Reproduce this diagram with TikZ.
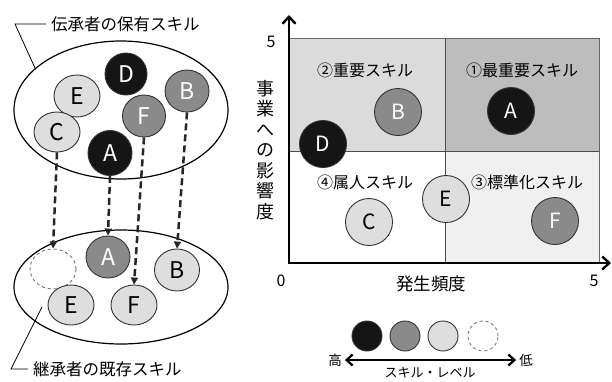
\documentclass[tikz,border=0pt]{standalone}
\usepackage{fontspec}
\setmainfont{Noto Sans CJK JP}
\usetikzlibrary{arrows.meta,shapes.geometric,calc}
\definecolor{cblack}{HTML}{151515}
\definecolor{cdark}{HTML}{8A8A8A}
\definecolor{clight}{HTML}{DEDEDE}
\tikzset{
  sk/.style={ellipse,draw=black!80,line width=0.9pt,inner sep=0pt,minimum width=#1,font=\fontsize{23}{23}\selectfont},
  skA/.style={sk=46pt,minimum height=42pt},
  blk/.style={fill=cblack,text=white},
  drk/.style={fill=cdark,text=white},
  lgt/.style={fill=clight,text=black},
  emp/.style={draw=black!55,dashed,fill=none},
  ch/.style={circle,draw=black!80,line width=0.9pt,inner sep=0pt,minimum size=47pt,font=\fontsize{21}{21}\selectfont},
  trans/.style={draw=black!85,line width=2.5pt,dash pattern=on 7pt off 4pt,-{Stealth[length=7pt,width=7pt,inset=0pt]}},
  lbl/.style={font=\fontsize{16.5}{16.5}\selectfont,inner sep=0pt},
  qlbl/.style={font=\fontsize{16}{16}\selectfont,inner sep=0pt},
  ax/.style={line width=2.5pt,line cap=round},
}
\begin{document}
\begin{tikzpicture}[x=1pt,y=-1pt]
\useasboundingbox (0,0) rectangle (612,381);
% --- left: holder skills
\node[ellipse,draw=black,line width=1.2pt,minimum width=214pt,minimum height=138pt] (topset) at (121,110) {};
\node[skA,blk,minimum width=42pt] (tD) at (126,74) {D};
\node[skA,lgt] (tE) at (77,96) {E};
\node[skA,lgt,minimum height=40pt] (tC) at (57,132) {C};
\node[skA,blk,minimum width=44pt,minimum height=45pt] (tA) at (110,153) {A};
\node[skA,drk,minimum width=43pt] (tF) at (144,116) {F};
\node[skA,drk,minimum width=44pt] (tB) at (187,91) {B};
\coordinate (tl1) at (35,68);
\coordinate (tl2) at (15,24);
\coordinate (tl3) at (46,24);
\draw[line width=0.8pt] (tl1) -- (tl2) -- (tl3);
\node[lbl,anchor=west] (toplabel) at (51,24) {伝承者の保有スキル};
% --- left: successor skills
\node[ellipse,draw=black,line width=1.2pt,minimum width=214pt,minimum height=114pt] (botset) at (121,287) {};
\node[skA,emp,minimum width=46pt,minimum height=40pt] (bX) at (53,269) {};
\node[skA,drk,minimum width=44pt] (bA) at (108,257) {A};
\node[skA,lgt,minimum width=45pt] (bB) at (177,270) {B};
\node[skA,lgt,minimum height=40pt] (bE) at (71,305) {E};
\node[skA,lgt,minimum height=40pt] (bF) at (134,305) {F};
\coordinate (bl1) at (42,307);
\coordinate (bl2) at (11,369);
\coordinate (bl3) at (28,369);
\draw[line width=0.8pt] (bl1) -- (bl2) -- (bl3);
\node[lbl,anchor=west] (botlabel) at (33,369) {継承者の既存スキル};
% transfer arrows
\draw[trans] (tC.south) -- (bX.north);
\draw[trans] (tA.south) -- (bA.north);
\draw[trans] (tF.south) -- (bF.north);
\draw[trans] (tB.south) -- (bB.north);
% --- right: matrix
\fill[gray!28] (289,38) rectangle (445,151);
\fill[gray!52] (445,38) rectangle (599,151);
\fill[gray!12] (445,151) rectangle (599,263);
\draw[black!60,line width=0.8pt] (289,38) rectangle (599,263);
\draw[black!70,line width=0.8pt] (445,38) -- (445,263);
\draw[black!70,line width=0.8pt] (289,151) -- (599,151);
\coordinate (org) at (289,263);
\coordinate (ytop) at (289,15);
\coordinate (xend) at (611,263);
\draw[ax,-{Straight Barb[length=7pt,width=13pt,line width=2.4pt]}] (org) -- (ytop);
\draw[ax,-{Straight Barb[length=7pt,width=13pt,line width=2.4pt]}] (org) -- (xend);
\node[qlbl] (y5) at (271,42) {5};
\node[qlbl] (x0) at (281,281) {0};
\node[qlbl] (x5) at (594,281) {5};
\node[font=\fontsize{17.5}{17.5}\selectfont,inner sep=0pt] (xlab) at (431,284) {発生頻度};
\node[font=\fontsize{18}{20.5}\selectfont,inner sep=0pt,align=center] (ylab) at (265,150) {事\\業\\へ\\の\\影\\響\\度};
\node[qlbl] (q2) at (365,70) {②重要スキル};
\node[qlbl] (q1) at (522,70) {①最重要スキル};
\node[qlbl] (q4) at (365,182) {④属人スキル};
\node[qlbl] (q3) at (527,182) {③標準化スキル};
\node[ch,drk] (mB) at (398,112) {B};
\node[ch,blk] (mA) at (511,111) {A};
\node[ch,blk] (mD) at (323,144) {D};
\node[ch,lgt] (mE) at (446,199) {E};
\node[ch,lgt] (mC) at (369,222) {C};
\node[ch,drk] (mF) at (555,221) {F};
% --- legend
\node[circle,draw=black!80,line width=0.9pt,minimum size=30pt,inner sep=0pt,fill=cblack] (l1) at (367,336) {};
\node[circle,draw=black!80,line width=0.9pt,minimum size=30pt,inner sep=0pt,fill=cdark] (l2) at (405,336) {};
\node[circle,draw=black!80,line width=0.9pt,minimum size=30pt,inner sep=0pt,fill=clight] (l3) at (443,336) {};
\node[circle,draw=black!55,dashed,line width=0.9pt,minimum size=30pt,inner sep=0pt] (l4) at (483,336) {};
\node[font=\fontsize{13.5}{13.5}\selectfont,inner sep=0pt] (hi) at (335,360) {高};
\node[font=\fontsize{13.5}{13.5}\selectfont,inner sep=0pt] (lo) at (526,360) {低};
\draw[line width=2.6pt,{Straight Barb[length=6pt,width=11pt,line width=2.2pt]}-{Straight Barb[length=6pt,width=11pt,line width=2.2pt]}] ($(hi.east)+(3,0)$) -- ($(lo.west)+(-3,0)$);
\node[font=\fontsize{13}{13}\selectfont,inner sep=0pt] (sl) at (430,373) {スキル・レベル};
\end{tikzpicture}
\end{document}
